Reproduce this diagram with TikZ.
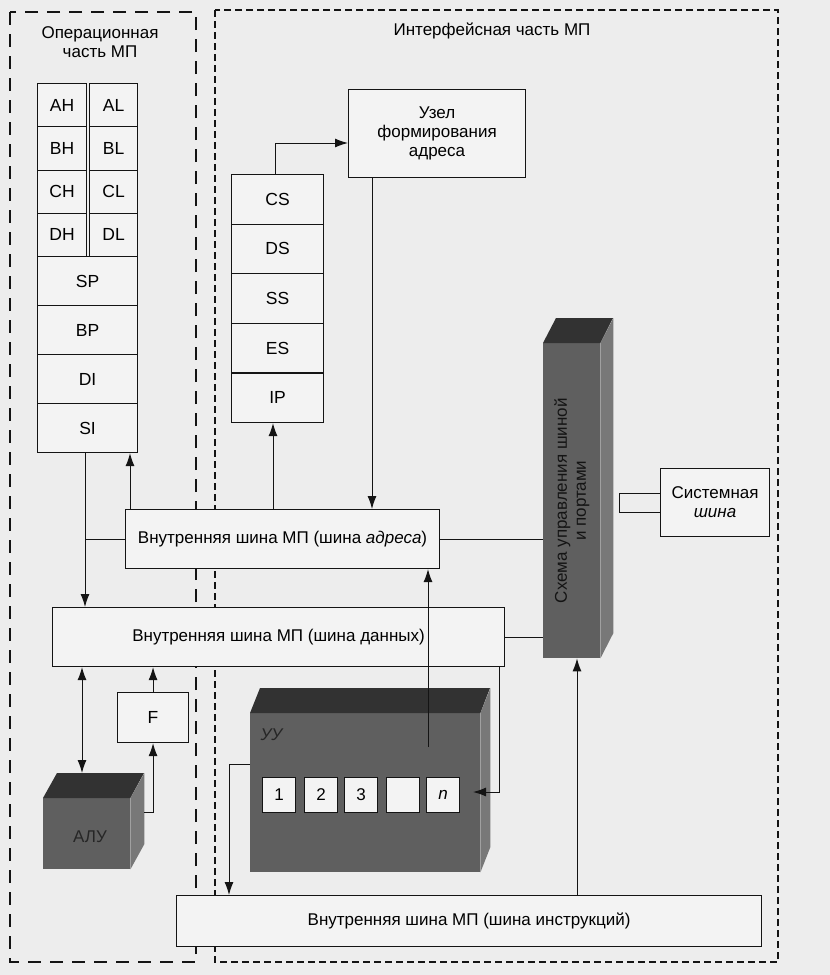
\documentclass[tikz,border=0pt]{standalone}
\usepackage{fontspec}
\setmainfont{Liberation Sans}
\usetikzlibrary{arrows.meta}
\definecolor{bg}{RGB}{237,237,237}
\definecolor{boxfill}{RGB}{243,243,243}
\definecolor{cubefront}{RGB}{95,95,95}
\definecolor{cubetop}{RGB}{50,50,50}
\definecolor{cubeside}{RGB}{120,120,120}
\definecolor{ink}{RGB}{20,20,20}
\begin{document}
\begin{tikzpicture}[x=1pt,y=-1pt,
  font=\fontsize{17}{19}\selectfont,
  box/.style={draw=ink, line width=1.1pt, fill=boxfill, inner sep=0pt, align=center},
  reg/.style={box, anchor=north west},
  regt/.style={reg, font=\fontsize{17.5}{19}\selectfont},
  cell/.style={draw=ink, line width=1pt, fill=boxfill, inner sep=0pt, minimum width=33, minimum height=35, anchor=north west},
  face/.style={inner sep=0pt, anchor=north west, fill=cubefront},
  ln/.style={draw=ink, line width=1pt},
  arr/.style={ln, -{Latex[length=13pt,width=9pt]}},
  darr/.style={ln, {Latex[length=13pt,width=9pt]}-{Latex[length=13pt,width=9pt]}},
  opborder/.style={draw=ink, line width=1.2pt, dash pattern=on 13pt off 9pt},
  ifborder/.style={draw=ink, line width=1.1pt, dash pattern=on 7pt off 4pt}
]
\useasboundingbox (0,0) rectangle (830,975);
\fill[bg] (0,0) rectangle (830,975);

% dashed borders
\draw[opborder] (10,12) rectangle (196,962);
\draw[ifborder] (215,10) rectangle (778,962);

% titles
\node[align=center] (optitle) at (100,42) {Операционная\\часть МП};
\node (iftitle) at (492,31) {Интерфейсная часть МП};

% general registers
\node[regt, minimum width=49, minimum height=43.25] (AH) at (37,83) {AH};
\node[regt, minimum width=48, minimum height=43.25] (AL) at (89,83) {AL};
\node[regt, minimum width=49, minimum height=43.25] (BH) at (37,126.25) {BH};
\node[regt, minimum width=48, minimum height=43.25] (BL) at (89,126.25) {BL};
\node[regt, minimum width=49, minimum height=43.25] (CH) at (37,169.5) {CH};
\node[regt, minimum width=48, minimum height=43.25] (CL) at (89,169.5) {CL};
\node[regt, minimum width=49, minimum height=43.25] (DH) at (37,212.75) {DH};
\node[regt, minimum width=48, minimum height=43.25] (DL) at (89,212.75) {DL};
\node[regt, minimum width=100, minimum height=49] (SP) at (37,256) {SP};
\node[regt, minimum width=100, minimum height=49] (BP) at (37,305) {BP};
\node[regt, minimum width=100, minimum height=49] (DI) at (37,354) {DI};
\node[regt, minimum width=100, minimum height=49] (SI) at (37,403) {SI};

% segment registers
\node[regt, minimum width=92, minimum height=49.6] (CS) at (231,174) {CS};
\node[regt, minimum width=92, minimum height=49.6] (DS) at (231,223.6) {DS};
\node[regt, minimum width=92, minimum height=49.6] (SS) at (231,273.2) {SS};
\node[regt, minimum width=92, minimum height=49.6] (ES) at (231,322.8) {ES};
\node[regt, minimum width=92, minimum height=49.6] (IP) at (231,372.4) {IP};

% address unit
\node[reg, minimum width=177, minimum height=88] (addr) at (348,89) {Узел\\формирования\\адреса};

% buses
\node[reg, minimum width=314, minimum height=59] (abus) at (125,509) {Внутренняя шина МП (шина \textit{адреса})};
\node[reg, minimum width=452, minimum height=59] (dbus) at (52,607) {Внутренняя шина МП (шина данных)};
\node[reg, minimum width=585, minimum height=51] (ibus) at (176,895) {Внутренняя шина МП (шина инструкций)};

% F
\node[regt, minimum width=71, minimum height=50] (F) at (117,692) {F};

% system bus
\node[reg, minimum width=109, minimum height=68] (sysbus) at (660,468) {Системная\\\textit{шина}};

% bus control unit (3D)
\node[face, minimum width=57, minimum height=315] (bcu) at (543,343) {};
\fill[cubetop] (bcu.north west) -- ++(13,-25) -- ++(57,0) -- (bcu.north east) -- cycle;
\fill[cubeside] (bcu.north east) -- ++(13,-25) -- ++(0,315) -- (bcu.south east) -- cycle;
\node[rotate=90, align=center, text=ink] (bcutext) at (bcu.center) {Схема управления шиной\\и портами};

% ALU (3D)
\node[face, minimum width=87, minimum height=71] (alu) at (43,798) {};
\fill[cubetop] (alu.north west) -- ++(14,-25) -- ++(87,0) -- (alu.north east) -- cycle;
\fill[cubeside] (alu.north east) -- ++(14,-25) -- ++(0,71) -- (alu.south east) -- cycle;
\node[text=black!85] (alutext) at (90,837) {АЛУ};

% control unit (3D)
\node[face, minimum width=230, minimum height=159] (uu) at (250,713) {};
\fill[cubetop] (uu.north west) -- ++(10,-25) -- ++(230,0) -- (uu.north east) -- cycle;
\fill[cubeside] (uu.north east) -- ++(10,-25) -- ++(0,159) -- (uu.south east) -- cycle;
\node[anchor=west, text=black!85] (uutext) at (257,735) {\textit{УУ}};
\node[cell] (u1) at (262,777) {1};
\node[cell] (u2) at (304,777) {2};
\node[cell] (u3) at (344,777) {3};
\node[cell] (u4) at (386,777) {};
\node[cell] (un) at (426,777) {\textit{n}};

% helper coordinates
\coordinate (c1) at (275,143);
\coordinate (c2) at (372,0);
\coordinate (c3) at (273,0);
\coordinate (c4) at (130,0);
\coordinate (c5) at (85,0);
\coordinate (c8) at (428,747);
\coordinate (c9) at (499,792);
\coordinate (c9e) at (473,792);
\coordinate (c10) at (229,764);
\coordinate (c11) at (577,0);
\coordinate (c12) at (82,0);
\coordinate (alutop) at (82,773);
\coordinate (c14) at (144,812);
\coordinate (hb1) at (619,493);
\coordinate (hb2) at (619,512);

% connectors
\draw[arr] (CS.north -| c1) -- (c1) -- (addr.west |- c1);
\draw[arr] (addr.south -| c2) -- (abus.north -| c2);
\draw[arr] (abus.north -| c3) -- (IP.south -| c3);
\draw[arr] (abus.north -| c4) -- (SI.south -| c4);
\draw[arr] (SI.south -| c5) -- (dbus.north -| c5);
\draw[ln] (abus.west) -- (abus.west -| c5);
\draw[ln] (abus.east) -- (abus.east -| bcu.west);
\draw[ln] (dbus.east) -- (dbus.east -| bcu.west);
\draw[arr] (c8) -- (abus.south -| c8);
\draw[arr] (dbus.south -| c9) -- (c9) -- (c9e);
\draw[arr] (uu.west |- c10) -- (c10) -- (ibus.north -| c10);
\draw[arr] (ibus.north -| c11) -- (bcu.south -| c11);
\draw[darr] (dbus.south -| c12) -- (alutop);
\draw[arr] (F.north) -- (dbus.south -| F.north);
\draw[arr] (c14) -- (c14 -| F.south) -- (F.south);
\draw[ln] (sysbus.west |- hb1) -- (hb1) -- (hb2) -- (sysbus.west |- hb2);
\end{tikzpicture}
\end{document}
